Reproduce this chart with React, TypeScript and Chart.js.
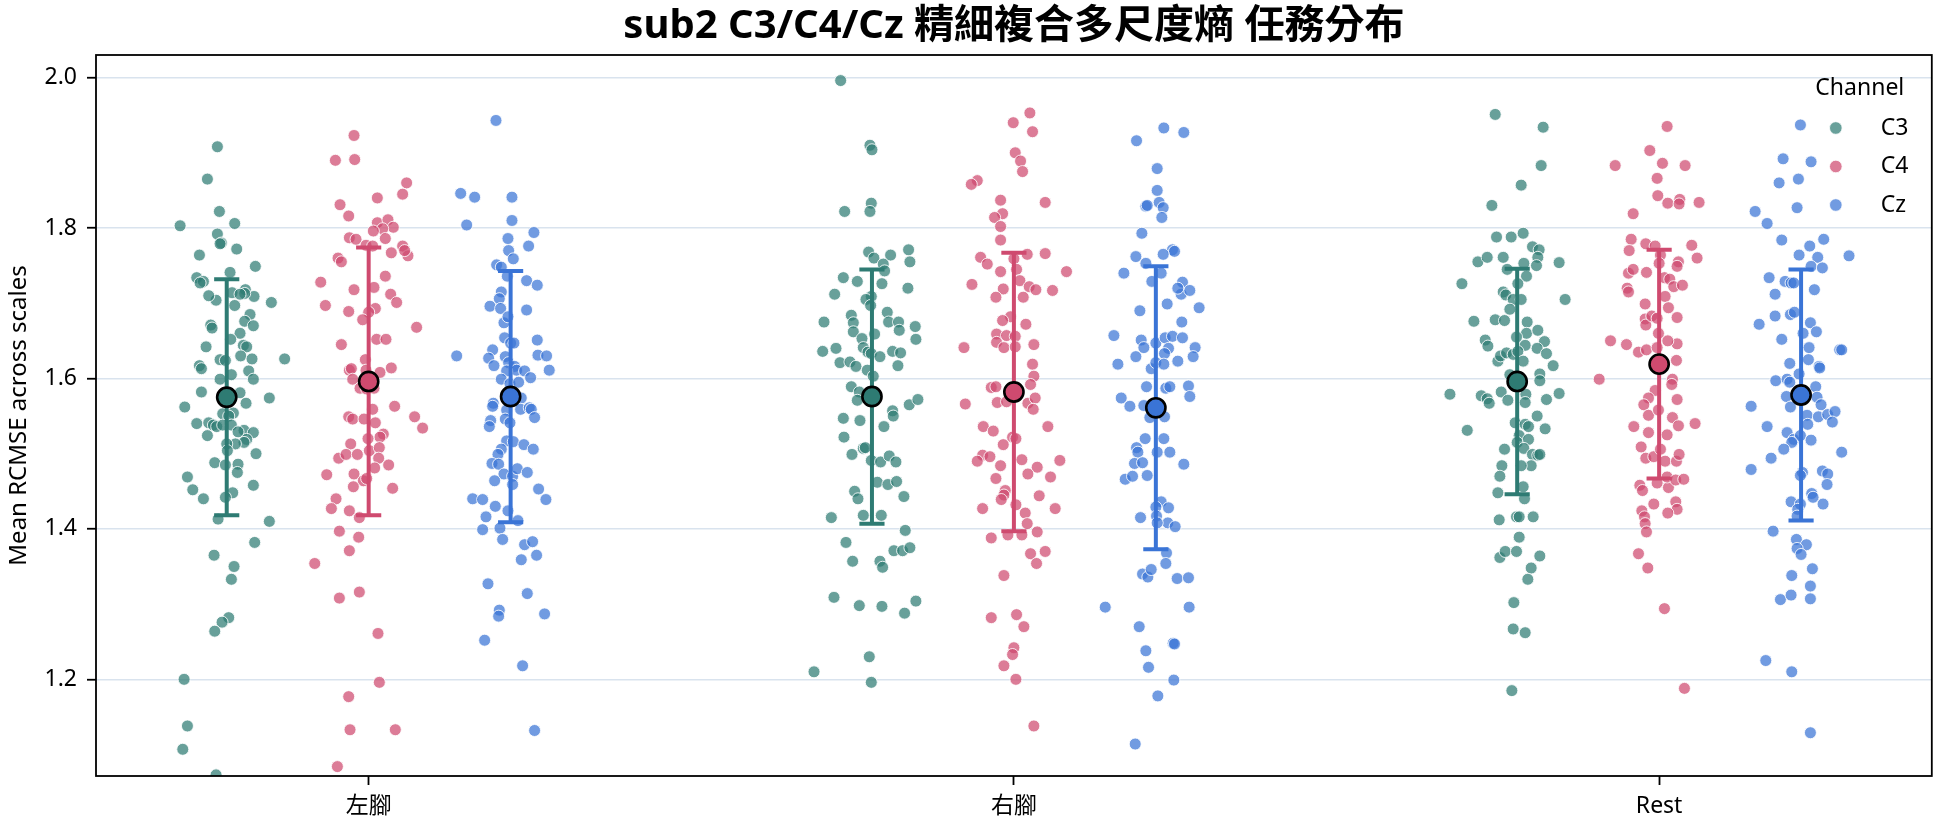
import React, { useEffect, useRef } from "react";
import { Chart, registerables } from "chart.js";

Chart.register(...registerables);

// ---------------- data ----------------
const TITLE = "sub2 C3/C4/Cz 精細複合多尺度熵 任務分布";
const Y_LABEL = "Mean RCMSE across scales";
const LEGEND_TITLE = "Channel";
const categories = ["左腳", "右腳", "Rest"];
const channels = ["C3", "C4", "Cz"];
const yTicks = [1.2, 1.4, 1.6, 1.8, 2.0];

// means / standard deviations per channel, ordered like categories
const meanC3 = [1.575, 1.576, 1.596];
const meanC4 = [1.596, 1.582, 1.619];
const meanCz = [1.576, 1.561, 1.578];
const sdC3 = [0.157, 0.169, 0.150];
const sdC4 = [0.178, 0.185, 0.152];
const sdCz = [0.167, 0.188, 0.167];

// individual trial values (strip points) and their horizontal jitter (fraction of jitter width)
const leftC3 = [1.908,1.865,1.822,1.803,1.806,1.792,1.780,1.779,1.772,1.764,1.749,1.741,1.734,1.729,1.727,1.718,1.709,1.713,1.714,1.712,1.704,1.710,1.697,1.701,1.685,1.676,1.670,1.671,1.667,1.660,1.652,1.642,1.644,1.642,1.630,1.626,1.625,1.624,1.626,1.617,1.613,1.610,1.599,1.605,1.599,1.582,1.581,1.567,1.574,1.562,1.553,1.554,1.550,1.540,1.541,1.538,1.536,1.538,1.538,1.531,1.528,1.524,1.529,1.519,1.515,1.513,1.513,1.500,1.504,1.488,1.485,1.486,1.475,1.469,1.452,1.440,1.458,1.448,1.442,1.413,1.410,1.382,1.365,1.350,1.333,1.282,1.276,1.264,1.200,1.138,1.107,1.073];
const leftC3Jitter = [-0.14,-0.29,-0.11,-0.70,0.12,-0.14,-0.08,-0.10,0.15,-0.41,0.43,0.05,-0.45,-0.35,-0.40,0.28,0.41,0.27,0.08,0.20,-0.16,-0.27,0.12,0.67,0.35,0.27,0.40,-0.24,-0.22,0.20,0.06,-0.31,0.25,0.30,0.21,0.38,-0.10,-0.02,0.87,-0.41,-0.38,0.33,0.40,0.07,-0.10,-0.38,0.20,0.29,0.64,-0.63,-0.06,0.10,0.03,-0.45,-0.27,-0.20,-0.15,-0.06,0.07,0.26,0.40,-0.29,0.17,0.30,0.26,0.13,0.00,0.44,0.01,-0.18,-0.02,0.17,0.16,-0.59,-0.51,-0.35,0.40,0.09,-0.02,-0.13,0.64,0.42,-0.19,0.11,0.07,0.03,-0.07,-0.18,-0.64,-0.59,-0.66,-0.16];

const leftC4 = [1.923,1.890,1.891,1.860,1.845,1.840,1.831,1.816,1.807,1.811,1.801,1.799,1.796,1.786,1.787,1.785,1.777,1.776,1.776,1.767,1.763,1.770,1.760,1.755,1.736,1.728,1.718,1.721,1.712,1.701,1.697,1.689,1.693,1.688,1.678,1.668,1.652,1.652,1.645,1.625,1.611,1.613,1.611,1.608,1.614,1.599,1.587,1.586,1.587,1.559,1.563,1.549,1.534,1.549,1.546,1.546,1.541,1.526,1.522,1.520,1.513,1.494,1.499,1.499,1.504,1.508,1.494,1.481,1.485,1.472,1.473,1.464,1.467,1.456,1.454,1.440,1.427,1.424,1.415,1.397,1.389,1.371,1.354,1.316,1.308,1.261,1.196,1.177,1.133,1.133,1.084];
const leftC4Jitter = [-0.22,-0.50,-0.21,0.57,0.51,0.13,-0.43,-0.30,0.13,0.29,0.37,0.21,0.07,0.25,-0.29,-0.19,-0.04,0.06,0.51,0.34,0.59,0.54,-0.46,-0.41,0.25,-0.72,-0.22,0.08,0.33,0.42,-0.65,-0.30,0.10,0.00,-0.09,0.72,0.12,0.26,-0.41,-0.05,-0.29,-0.26,-0.04,0.17,0.34,-0.24,-0.13,-0.03,0.08,0.06,0.39,0.69,0.81,-0.30,-0.24,-0.07,0.10,0.22,0.17,-0.01,-0.27,-0.45,-0.34,-0.17,0.01,0.16,0.15,0.09,0.30,-0.63,-0.22,-0.08,-0.03,-0.23,0.36,-0.49,-0.56,-0.29,-0.14,-0.44,-0.15,-0.29,-0.81,-0.14,-0.44,0.14,0.16,-0.30,-0.28,0.40,-0.47];

const leftCz = [1.943,1.846,1.841,1.841,1.810,1.804,1.794,1.786,1.776,1.770,1.759,1.751,1.748,1.736,1.730,1.724,1.715,1.706,1.696,1.693,1.691,1.674,1.682,1.651,1.654,1.647,1.647,1.638,1.630,1.627,1.617,1.629,1.621,1.616,1.611,1.631,1.630,1.611,1.610,1.610,1.601,1.599,1.593,1.595,1.574,1.567,1.563,1.558,1.559,1.561,1.559,1.548,1.546,1.541,1.544,1.536,1.517,1.516,1.512,1.506,1.506,1.499,1.487,1.486,1.473,1.470,1.480,1.475,1.464,1.459,1.453,1.439,1.440,1.439,1.430,1.424,1.416,1.399,1.401,1.411,1.386,1.379,1.383,1.365,1.359,1.327,1.314,1.292,1.284,1.287,1.252,1.218,1.132];
const leftCzJitter = [-0.22,-0.75,-0.54,0.02,0.02,-0.66,0.35,-0.04,0.27,-0.03,0.04,-0.21,-0.14,-0.05,0.24,0.40,-0.14,-0.17,-0.31,-0.15,0.24,-0.10,-0.04,0.40,-0.09,0.00,0.05,-0.27,-0.81,-0.33,-0.25,-0.08,-0.03,0.06,0.09,0.41,0.54,0.58,-0.06,0.21,0.30,-0.14,-0.01,0.12,0.16,-0.26,-0.27,-0.06,0.15,0.28,0.31,0.36,-0.08,-0.01,-0.30,-0.32,-0.06,0.04,0.20,0.34,-0.14,-0.19,-0.28,-0.18,-0.10,0.03,0.10,0.25,-0.24,0.03,0.42,0.53,-0.57,-0.42,-0.23,-0.04,-0.37,-0.42,-0.16,0.11,-0.12,0.21,0.33,0.39,0.16,-0.34,0.25,-0.17,-0.18,0.51,-0.39,0.18,0.36];

const rightC3 = [1.996,1.910,1.904,1.833,1.822,1.822,1.768,1.760,1.764,1.771,1.755,1.752,1.743,1.726,1.734,1.729,1.720,1.712,1.709,1.705,1.697,1.688,1.675,1.675,1.664,1.675,1.684,1.674,1.662,1.669,1.652,1.653,1.659,1.636,1.640,1.641,1.635,1.633,1.629,1.636,1.634,1.621,1.622,1.616,1.617,1.611,1.603,1.589,1.582,1.571,1.565,1.572,1.557,1.550,1.547,1.544,1.536,1.522,1.507,1.508,1.499,1.491,1.489,1.497,1.489,1.462,1.459,1.463,1.443,1.450,1.440,1.415,1.418,1.418,1.398,1.382,1.357,1.357,1.349,1.371,1.371,1.375,1.309,1.298,1.297,1.288,1.304,1.230,1.210,1.196];
const rightC3Jitter = [-0.47,-0.03,0.00,-0.01,-0.41,-0.03,-0.05,0.03,0.28,0.55,0.57,0.17,0.19,0.15,-0.43,-0.22,0.54,-0.56,-0.01,-0.09,-0.02,0.23,0.25,0.40,0.41,-0.72,-0.31,-0.28,-0.28,0.65,0.66,-0.15,0.04,-0.74,-0.54,-0.13,-0.06,-0.01,0.12,0.31,0.43,-0.48,-0.33,-0.24,0.39,-0.07,0.02,-0.31,-0.19,-0.22,0.56,0.69,0.31,0.32,-0.43,-0.18,0.18,-0.42,-0.13,-0.10,-0.30,-0.01,0.13,0.26,0.36,0.08,0.24,0.37,0.48,-0.26,-0.21,-0.61,-0.13,0.14,0.50,-0.39,-0.29,0.12,0.16,0.33,0.46,0.57,-0.57,-0.19,0.15,0.49,0.66,-0.04,-0.87,-0.01];

const rightC4 = [1.953,1.940,1.928,1.900,1.889,1.875,1.863,1.858,1.837,1.834,1.819,1.814,1.802,1.784,1.761,1.752,1.759,1.745,1.765,1.766,1.742,1.742,1.725,1.730,1.722,1.718,1.719,1.717,1.708,1.708,1.682,1.677,1.672,1.659,1.657,1.656,1.648,1.641,1.642,1.645,1.641,1.619,1.603,1.592,1.588,1.589,1.568,1.569,1.567,1.574,1.559,1.566,1.536,1.530,1.536,1.522,1.520,1.512,1.498,1.496,1.490,1.492,1.482,1.473,1.484,1.491,1.469,1.467,1.451,1.445,1.439,1.444,1.427,1.432,1.421,1.427,1.407,1.396,1.388,1.392,1.392,1.367,1.370,1.354,1.338,1.282,1.286,1.270,1.242,1.233,1.218,1.200,1.138];
const rightC4Jitter = [0.24,-0.01,0.28,0.02,0.10,0.13,-0.55,-0.64,-0.20,0.47,-0.17,-0.29,-0.20,-0.20,-0.50,-0.40,0.00,0.04,0.20,0.47,0.79,-0.20,-0.63,0.09,0.23,0.33,-0.16,0.58,-0.27,0.14,-0.05,-0.17,0.18,-0.26,-0.11,0.02,-0.26,-0.15,0.02,0.30,-0.75,0.28,0.30,0.25,-0.34,-0.27,-0.25,-0.11,0.21,0.32,0.29,-0.73,-0.46,-0.31,0.51,-0.02,0.03,-0.16,-0.47,-0.36,-0.55,0.12,0.35,0.21,-0.20,0.69,0.55,-0.27,-0.13,-0.15,-0.19,0.38,-0.47,0.03,0.17,0.62,0.20,0.35,-0.34,-0.09,0.12,0.25,0.47,0.34,-0.15,-0.34,0.04,0.15,0.00,-0.02,-0.15,0.03,0.30];

const rightCz = [1.933,1.927,1.916,1.879,1.850,1.829,1.834,1.827,1.814,1.830,1.793,1.771,1.769,1.765,1.762,1.753,1.740,1.740,1.729,1.728,1.712,1.717,1.720,1.699,1.694,1.690,1.675,1.657,1.651,1.641,1.647,1.654,1.656,1.654,1.640,1.633,1.629,1.619,1.641,1.629,1.623,1.613,1.621,1.619,1.589,1.587,1.589,1.590,1.576,1.574,1.563,1.564,1.548,1.549,1.520,1.520,1.508,1.502,1.502,1.502,1.487,1.488,1.486,1.466,1.470,1.471,1.436,1.428,1.429,1.417,1.415,1.408,1.403,1.408,1.368,1.354,1.340,1.336,1.346,1.334,1.335,1.296,1.296,1.270,1.248,1.247,1.238,1.216,1.199,1.178,1.114];
const rightCzJitter = [0.12,0.42,-0.29,0.02,0.02,-0.15,0.05,0.11,0.09,-0.13,-0.21,0.25,0.28,0.11,-0.30,-0.15,-0.48,0.08,-0.06,0.40,0.38,0.51,0.33,0.17,0.65,-0.24,0.39,-0.63,-0.22,-0.18,0.00,0.14,0.25,0.40,0.19,0.13,-0.30,-0.57,0.59,0.56,0.33,-0.07,0.00,0.12,-0.14,0.15,0.21,0.49,0.51,-0.52,-0.39,-0.18,-0.09,0.13,-0.16,0.12,-0.29,-0.27,0.02,0.21,-0.32,-0.20,0.42,-0.46,-0.35,-0.13,0.08,0.19,0.00,0.01,-0.23,0.18,0.29,0.02,0.16,0.15,-0.20,-0.12,-0.07,0.32,0.49,-0.76,0.50,-0.25,0.26,0.28,-0.15,-0.11,0.27,0.03,-0.31];

const restC3 = [1.951,1.934,1.883,1.857,1.830,1.788,1.788,1.793,1.775,1.771,1.761,1.750,1.736,1.755,1.761,1.761,1.745,1.753,1.754,1.726,1.726,1.715,1.711,1.705,1.705,1.705,1.692,1.676,1.678,1.677,1.675,1.660,1.664,1.649,1.640,1.633,1.617,1.651,1.643,1.655,1.644,1.623,1.630,1.634,1.632,1.636,1.623,1.605,1.606,1.597,1.579,1.577,1.573,1.567,1.582,1.571,1.579,1.568,1.572,1.580,1.531,1.550,1.533,1.541,1.539,1.536,1.524,1.515,1.519,1.506,1.507,1.499,1.498,1.499,1.484,1.484,1.470,1.484,1.456,1.448,1.440,1.412,1.416,1.416,1.416,1.389,1.362,1.370,1.370,1.364,1.348,1.333,1.302,1.267,1.262,1.185];
const restC3Jitter = [-0.33,0.39,0.36,0.06,-0.38,-0.31,-0.09,0.09,0.23,0.33,0.31,0.29,0.14,-0.59,-0.45,-0.21,-0.15,0.10,0.63,-0.83,0.01,-0.21,-0.17,0.72,-0.06,0.06,-0.11,-0.65,-0.33,-0.19,0.15,0.14,0.31,0.41,0.30,0.44,0.54,-0.48,-0.44,-0.01,0.12,-0.29,-0.25,-0.16,-0.06,0.01,0.09,-0.11,0.34,0.34,-1.01,-0.54,-0.45,-0.42,-0.24,-0.14,0.13,0.12,0.44,0.63,-0.75,0.30,0.42,-0.03,0.12,0.17,0.03,0.00,0.17,-0.19,0.10,0.23,0.31,0.34,0.21,-0.23,-0.26,0.06,0.09,-0.29,0.11,-0.27,-0.01,0.03,0.24,0.03,-0.26,-0.18,-0.01,0.34,0.21,0.16,-0.05,-0.06,0.12,-0.08];

const restC4 = [1.935,1.903,1.883,1.886,1.883,1.866,1.843,1.833,1.838,1.832,1.834,1.819,1.785,1.770,1.779,1.776,1.777,1.760,1.764,1.753,1.755,1.749,1.740,1.745,1.741,1.734,1.732,1.722,1.724,1.720,1.715,1.709,1.699,1.694,1.681,1.679,1.671,1.683,1.680,1.660,1.650,1.645,1.635,1.638,1.641,1.646,1.650,1.624,1.599,1.599,1.592,1.584,1.572,1.574,1.565,1.551,1.558,1.548,1.537,1.540,1.536,1.528,1.525,1.509,1.494,1.496,1.506,1.490,1.490,1.499,1.458,1.451,1.461,1.455,1.469,1.465,1.466,1.433,1.436,1.426,1.421,1.424,1.416,1.407,1.396,1.367,1.348,1.294,1.188];
const restC4Jitter = [0.12,-0.14,-0.66,0.05,0.39,-0.03,-0.02,0.13,0.31,0.30,0.60,-0.39,-0.42,-0.45,-0.20,-0.06,0.49,0.57,0.02,0.00,0.29,0.27,-0.46,-0.39,-0.19,0.08,0.16,0.22,0.35,-0.48,-0.46,0.09,-0.21,0.14,0.27,-0.21,-0.20,-0.11,-0.03,-0.01,-0.73,-0.49,-0.31,-0.19,-0.03,0.27,0.13,0.26,-0.90,0.20,0.19,-0.06,0.27,-0.16,-0.23,-0.16,-0.01,0.20,0.29,0.54,-0.38,-0.16,0.12,-0.27,-0.20,-0.08,0.02,0.09,0.26,0.30,-0.29,-0.25,-0.03,0.14,0.12,0.25,0.37,-0.08,0.25,0.27,0.13,-0.26,-0.22,-0.21,-0.19,-0.31,-0.17,0.08,0.38];

const restCz = [1.937,1.892,1.888,1.860,1.865,1.822,1.806,1.827,1.784,1.776,1.785,1.764,1.761,1.749,1.747,1.763,1.734,1.729,1.727,1.727,1.718,1.712,1.683,1.685,1.688,1.672,1.674,1.660,1.662,1.652,1.641,1.638,1.638,1.620,1.625,1.616,1.614,1.606,1.597,1.599,1.595,1.589,1.576,1.562,1.563,1.575,1.565,1.551,1.549,1.552,1.556,1.542,1.539,1.536,1.528,1.519,1.524,1.515,1.518,1.506,1.502,1.494,1.479,1.475,1.471,1.477,1.473,1.459,1.447,1.442,1.436,1.433,1.426,1.433,1.417,1.397,1.386,1.379,1.374,1.366,1.347,1.338,1.324,1.306,1.312,1.307,1.225,1.210,1.129];
const restCzJitter = [-0.01,-0.27,0.15,-0.33,-0.04,-0.69,-0.51,-0.06,-0.29,0.13,0.34,-0.03,0.25,0.15,0.32,0.72,-0.48,-0.24,-0.15,-0.11,0.20,-0.39,-0.39,-0.16,-0.10,-0.63,0.14,0.03,0.23,-0.29,0.12,0.58,0.61,-0.17,0.11,0.27,0.28,-0.03,-0.38,-0.21,-0.17,0.22,-0.22,-0.16,-0.75,0.24,0.30,0.09,0.26,0.40,0.51,0.47,0.10,-0.51,-0.21,-0.11,-0.01,-0.14,0.15,-0.26,0.61,-0.45,-0.75,0.02,-0.01,0.32,0.40,0.39,0.16,0.18,-0.15,-0.01,-0.05,0.33,-0.06,-0.42,-0.07,0.08,-0.06,0.00,0.17,-0.14,0.14,-0.31,-0.15,0.14,-0.53,-0.14,0.14];

// ---------------- styling / layout ----------------
const FONT = '"Noto Sans", "Noto Sans CJK TC", sans-serif';
const BASE_COLORS = ["#2e7b73", "#cf4a6f", "#3a74d6"];
const POINT_COLORS = ["rgba(46,123,115,0.72)", "rgba(207,74,111,0.72)", "rgba(58,116,214,0.72)"];
const X_MIN = -0.4226;
const X_MAX = 2.4226;
const Y_MIN = 1.0715;
const Y_MAX = 2.03;
const DODGE = 0.22;
const JITTER_WIDTH = 0.1032;
const CAP_HALF = 0.0195;

const valuesByCat = [
  [leftC3, leftC4, leftCz],
  [rightC3, rightC4, rightCz],
  [restC3, restC4, restCz],
];
const jitterByCat = [
  [leftC3Jitter, leftC4Jitter, leftCzJitter],
  [rightC3Jitter, rightC4Jitter, rightCzJitter],
  [restC3Jitter, restC4Jitter, restCzJitter],
];
const meansByCh = [meanC3, meanC4, meanCz];
const sdByCh = [sdC3, sdC4, sdCz];

const groupX = (ci: number, ch: number) => ci + (ch - 1) * DODGE;

function stripData(ch: number) {
  return categories.flatMap((_, ci) =>
    valuesByCat[ci][ch].map((v, k) => ({
      x: groupX(ci, ch) + (jitterByCat[ci][ch][k] ?? 0) * JITTER_WIDTH,
      y: v,
    }))
  );
}

function errorData(ch: number) {
  return categories.flatMap((_, ci) => {
    const xc = groupX(ci, ch);
    const lo = meansByCh[ch][ci] - sdByCh[ch][ci];
    const hi = meansByCh[ch][ci] + sdByCh[ch][ci];
    return [
      { x: xc - CAP_HALF, y: lo },
      { x: xc + CAP_HALF, y: lo },
      { x: xc, y: null },
      { x: xc, y: lo },
      { x: xc, y: hi },
      { x: xc, y: null },
      { x: xc - CAP_HALF, y: hi },
      { x: xc + CAP_HALF, y: hi },
      { x: xc, y: null },
    ];
  });
}

function meanData(ch: number) {
  return categories.map((_, ci) => ({ x: groupX(ci, ch), y: meansByCh[ch][ci] }));
}

const decorPlugin = {
  id: "decor",
  afterDraw(chart: any) {
    const { ctx, chartArea: a } = chart;
    ctx.save();
    // frame
    ctx.strokeStyle = "#000";
    ctx.lineWidth = 1.8;
    ctx.strokeRect(a.left, a.top, a.right - a.left, a.bottom - a.top);
    // title
    ctx.fillStyle = "#000";
    ctx.font = `bold 40px ${FONT}`;
    ctx.textAlign = "center";
    ctx.textBaseline = "middle";
    ctx.fillText(TITLE, (a.left + a.right) / 2, 27);
    // legend
    ctx.font = `23px ${FONT}`;
    ctx.fillText(LEGEND_TITLE, a.right - 72, a.top + 33);
    channels.forEach((name, i) => {
      const y = a.top + 73 + i * 38.5;
      ctx.beginPath();
      ctx.arc(a.right - 96, y, 6.3, 0, Math.PI * 2);
      ctx.fillStyle = POINT_COLORS[i];
      ctx.fill();
      ctx.strokeStyle = "rgba(255,255,255,0.8)";
      ctx.lineWidth = 1;
      ctx.stroke();
      ctx.fillStyle = "#000";
      ctx.textAlign = "left";
      ctx.fillText(name, a.right - 51, y);
    });
    ctx.restore();
  },
};

export default function App() {
  const ref = useRef<HTMLCanvasElement | null>(null);

  useEffect(() => {
    if (!ref.current) return;
    Chart.defaults.font.family = FONT;
    Chart.defaults.font.size = 23;
    Chart.defaults.color = "#000";

    const datasets: any[] = [];
    channels.forEach((name, ch) => {
      datasets.push({
        type: "scatter",
        label: name,
        data: stripData(ch),
        backgroundColor: POINT_COLORS[ch],
        borderColor: "rgba(255,255,255,0.85)",
        borderWidth: 1,
        pointRadius: 6,
        pointHoverRadius: 6,
        order: 3,
      });
    });
    channels.forEach((name, ch) => {
      datasets.push({
        type: "scatter",
        label: name + " sd",
        data: errorData(ch),
        showLine: true,
        spanGaps: false,
        borderColor: BASE_COLORS[ch],
        backgroundColor: BASE_COLORS[ch],
        borderWidth: 4,
        borderCapStyle: "butt",
        pointRadius: 0,
        pointHoverRadius: 0,
        order: 2,
      });
    });
    channels.forEach((name, ch) => {
      datasets.push({
        type: "scatter",
        label: name + " mean",
        data: meanData(ch),
        backgroundColor: BASE_COLORS[ch],
        borderColor: "#000",
        borderWidth: 2.6,
        pointRadius: 9.6,
        pointHoverRadius: 9.6,
        order: 1,
      });
    });

    const chart = new Chart(ref.current, {
      type: "scatter",
      data: { datasets },
      plugins: [decorPlugin],
      options: {
        responsive: false,
        devicePixelRatio: 1,
        animation: false,
        events: [],
        layout: { padding: { top: 55, right: 10, bottom: 0, left: 0 } },
        plugins: {
          legend: { display: false },
          tooltip: { enabled: false },
          title: { display: false },
        },
        scales: {
          x: {
            type: "linear",
            min: X_MIN,
            max: X_MAX,
            afterFit: (scale: any) => {
              scale.height = 51;
            },
            afterBuildTicks: (scale: any) => {
              scale.ticks = categories.map((_, i) => ({ value: i }));
            },
            ticks: {
              autoSkip: false,
              maxRotation: 0,
              padding: 8,
              font: { size: 23 },
              callback: (_v: any, i: number) => categories[i],
            },
            grid: {
              drawOnChartArea: false,
              drawTicks: true,
              tickLength: 9,
              tickColor: "#000",
              tickWidth: 1.8,
            },
            border: { display: false },
          },
          y: {
            type: "linear",
            min: Y_MIN,
            max: Y_MAX,
            afterFit: (scale: any) => {
              scale.width = 96;
            },
            afterBuildTicks: (scale: any) => {
              scale.ticks = yTicks.map((v) => ({ value: v }));
            },
            ticks: {
              padding: 10,
              font: { size: 23 },
              callback: (v: any) => Number(v).toFixed(1),
            },
            grid: {
              color: "#d9e3ee",
              lineWidth: 1.5,
              drawTicks: true,
              tickLength: 9,
              tickColor: "#000",
              tickWidth: 1.8,
            },
            border: { display: false },
            title: {
              display: true,
              text: Y_LABEL,
              font: { size: 24 },
              padding: { top: 5, bottom: 0 },
            },
          },
        },
      } as any,
    });
    return () => chart.destroy();
  }, []);

  return (
    <div style={{ position: "fixed", left: 0, top: 0, width: 1944, height: 827, background: "#fff" }}>
      <canvas ref={ref} width={1944} height={827} style={{ display: "block", width: 1944, height: 827 }} />
    </div>
  );
}
